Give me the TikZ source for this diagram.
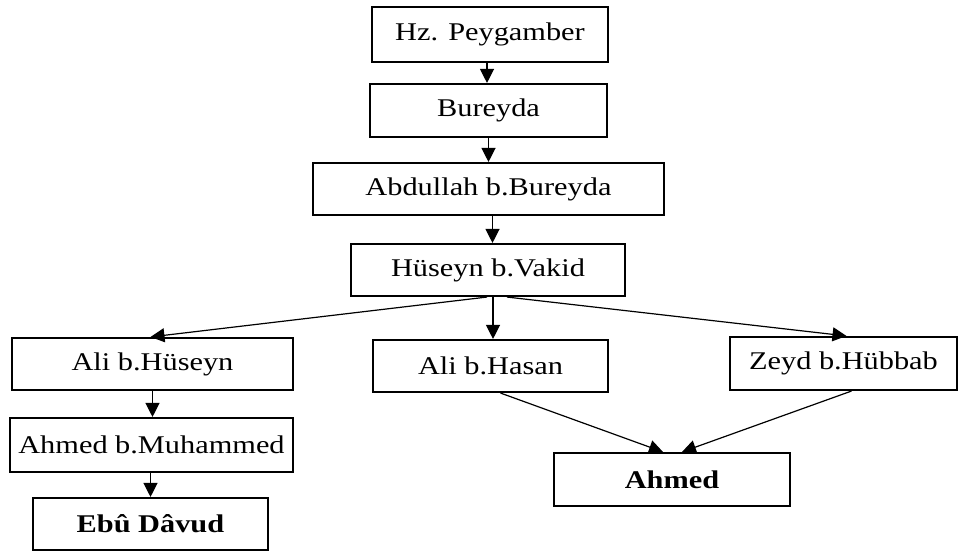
\documentclass[tikz,border=0pt]{standalone}
\usepackage{fontspec}
\setmainfont{Liberation Serif}[FakeStretch=1.19]
\usetikzlibrary{arrows.meta}
\begin{document}
\begin{tikzpicture}[x=1pt,y=-1pt,
  box/.style={draw=black,line width=2.1pt,inner sep=0pt,font=\fontsize{25.5}{30}\selectfont},
  conn/.style={line width=1.2pt,-{Triangle[length=14pt,width=14pt]}}]
\useasboundingbox (0,0) rectangle (959,551);
\node[box,minimum width=236pt,minimum height=55pt] (hz) at (490,34.5) {Hz. Peygamber};
\node[box,minimum width=237pt,minimum height=53pt] (bur) at (488.5,110.5) {Bureyda};
\node[box,minimum width=351pt,minimum height=52pt] (abd) at (488.5,189) {Abdullah b.Bureyda};
\node[box,minimum width=274pt,minimum height=52pt] (hus) at (488,270) {Hüseyn b.Vakid};
\node[box,minimum width=281pt,minimum height=52pt] (alih) at (152.5,364) {Ali b.Hüseyn};
\node[box,minimum width=235pt,minimum height=52pt] (alihasan) at (490.5,366) {Ali b.Hasan};
\node[box,minimum width=227pt,minimum height=53pt] (zeyd) at (843.5,363.5) {Zeyd b.Hübbab};
\node[box,minimum width=283pt,minimum height=54pt] (ahmedm) at (151.5,445) {Ahmed b.Muhammed};
\node[box,minimum width=235pt,minimum height=52pt] (ebu) at (150.5,524) {\bfseries Ebû Dâvud};
\node[box,minimum width=236pt,minimum height=53pt] (ahmed) at (672,479.5) {\bfseries Ahmed};
\draw[conn] ([xshift=-3pt]hz.south) -- ([xshift=-3pt]hz.south |- bur.north);
\draw[conn] (bur.south) -- (bur.south |- abd.north);
\draw[conn] ([xshift=4pt]abd.south) -- ([xshift=4pt]abd.south |- hus.north);
\draw[conn] ([xshift=5pt]hus.south) -- ([xshift=5pt]hus.south |- alihasan.north);
\draw[conn] ([xshift=-1pt]hus.south) -- ([xshift=-2pt]alih.north);
\draw[conn] ([xshift=19pt]hus.south) -- ([xshift=3pt]zeyd.north);
\draw[conn] (alih.south) -- (alih.south |- ahmedm.north);
\draw[conn] ([xshift=-1pt]ahmedm.south) -- ([xshift=-1pt]ahmedm.south |- ebu.north);
\draw[conn] ([xshift=10pt]alihasan.south) -- ([xshift=-9pt]ahmed.north);
\draw[conn] ([xshift=8pt]zeyd.south) -- ([xshift=10pt]ahmed.north);
\end{tikzpicture}
\end{document}
